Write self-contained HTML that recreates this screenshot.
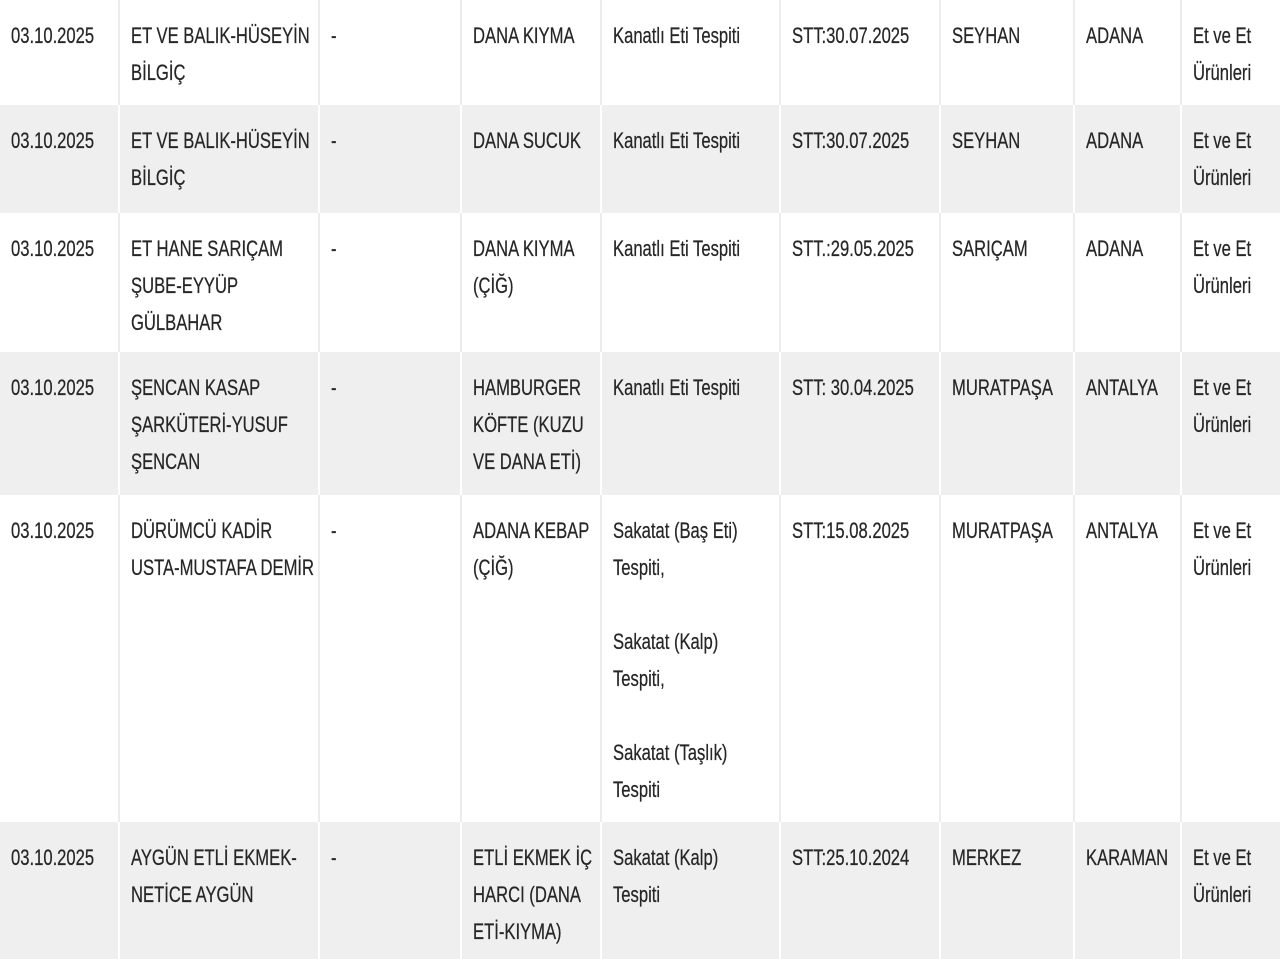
<!DOCTYPE html><html><head><meta charset="utf-8"><style>
body{margin:0;width:1280px;height:959px;overflow:hidden;background:#fff;font-family:"Liberation Sans",sans-serif;color:#262626;}
.r{position:absolute;left:0;width:1280px;}
.g{background:#efefef}
.c{position:absolute;top:0;bottom:0;padding:17px 0 0 11px;box-sizing:border-box;font-size:22px;line-height:37px;-webkit-text-stroke:0.25px #262626;}
.c span{display:block;white-space:nowrap;transform:scaleX(0.755);transform-origin:0 0;}
.w .c{border-right:2px solid #ececec}
.g .c{border-right:2px solid #fff}
.c1{left:0;width:120px}.c2{left:120px;width:200px}.c3{left:320px;width:142px}.c4{left:462px;width:140px}.c5{left:602px;width:179px}.c6{left:781px;width:160px}.c7{left:941px;width:134px}.c8{left:1075px;width:107px}.c9{left:1182px;width:98px;border-right:none!important}
</style></head><body>
<div class="r w" style="top:0;height:105px"><div class="c c1"><span>03.10.2025</span></div><div class="c c2"><span>ET VE BALIK-HÜSEYİN<br>BİLGİÇ</span></div><div class="c c3"><span>-</span></div><div class="c c4"><span>DANA KIYMA</span></div><div class="c c5"><span>Kanatlı Eti Tespiti</span></div><div class="c c6"><span>STT:30.07.2025</span></div><div class="c c7"><span>SEYHAN</span></div><div class="c c8"><span>ADANA</span></div><div class="c c9"><span>Et ve Et<br>Ürünleri</span></div></div>
<div class="r g" style="top:105px;height:108px"><div class="c c1"><span>03.10.2025</span></div><div class="c c2"><span>ET VE BALIK-HÜSEYİN<br>BİLGİÇ</span></div><div class="c c3"><span>-</span></div><div class="c c4"><span>DANA SUCUK</span></div><div class="c c5"><span>Kanatlı Eti Tespiti</span></div><div class="c c6"><span>STT:30.07.2025</span></div><div class="c c7"><span>SEYHAN</span></div><div class="c c8"><span>ADANA</span></div><div class="c c9"><span>Et ve Et<br>Ürünleri</span></div></div>
<div class="r w" style="top:213px;height:139px"><div class="c c1"><span>03.10.2025</span></div><div class="c c2"><span>ET HANE SARIÇAM<br>ŞUBE-EYYÜP<br>GÜLBAHAR</span></div><div class="c c3"><span>-</span></div><div class="c c4"><span>DANA KIYMA<br>(ÇİĞ)</span></div><div class="c c5"><span>Kanatlı Eti Tespiti</span></div><div class="c c6"><span>STT.:29.05.2025</span></div><div class="c c7"><span>SARIÇAM</span></div><div class="c c8"><span>ADANA</span></div><div class="c c9"><span>Et ve Et<br>Ürünleri</span></div></div>
<div class="r g" style="top:352px;height:143px"><div class="c c1"><span>03.10.2025</span></div><div class="c c2"><span>ŞENCAN KASAP<br>ŞARKÜTERİ-YUSUF<br>ŞENCAN</span></div><div class="c c3"><span>-</span></div><div class="c c4"><span>HAMBURGER<br>KÖFTE (KUZU<br>VE DANA ETİ)</span></div><div class="c c5"><span>Kanatlı Eti Tespiti</span></div><div class="c c6"><span>STT: 30.04.2025</span></div><div class="c c7"><span>MURATPAŞA</span></div><div class="c c8"><span>ANTALYA</span></div><div class="c c9"><span>Et ve Et<br>Ürünleri</span></div></div>
<div class="r w" style="top:495px;height:327px"><div class="c c1"><span>03.10.2025</span></div><div class="c c2"><span>DÜRÜMCÜ KADİR<br>USTA-MUSTAFA DEMİR</span></div><div class="c c3"><span>-</span></div><div class="c c4"><span>ADANA KEBAP<br>(ÇİĞ)</span></div><div class="c c5"><span>Sakatat (Baş Eti)<br>Tespiti,<br><br>Sakatat (Kalp)<br>Tespiti,<br><br>Sakatat (Taşlık)<br>Tespiti</span></div><div class="c c6"><span>STT:15.08.2025</span></div><div class="c c7"><span>MURATPAŞA</span></div><div class="c c8"><span>ANTALYA</span></div><div class="c c9"><span>Et ve Et<br>Ürünleri</span></div></div>
<div class="r g" style="top:822px;height:137px"><div class="c c1"><span>03.10.2025</span></div><div class="c c2"><span>AYGÜN ETLİ EKMEK-<br>NETİCE AYGÜN</span></div><div class="c c3"><span>-</span></div><div class="c c4"><span>ETLİ EKMEK İÇ<br>HARCI (DANA<br>ETİ-KIYMA)</span></div><div class="c c5"><span>Sakatat (Kalp)<br>Tespiti</span></div><div class="c c6"><span>STT:25.10.2024</span></div><div class="c c7"><span>MERKEZ</span></div><div class="c c8"><span>KARAMAN</span></div><div class="c c9"><span>Et ve Et<br>Ürünleri</span></div></div>
</body></html>
